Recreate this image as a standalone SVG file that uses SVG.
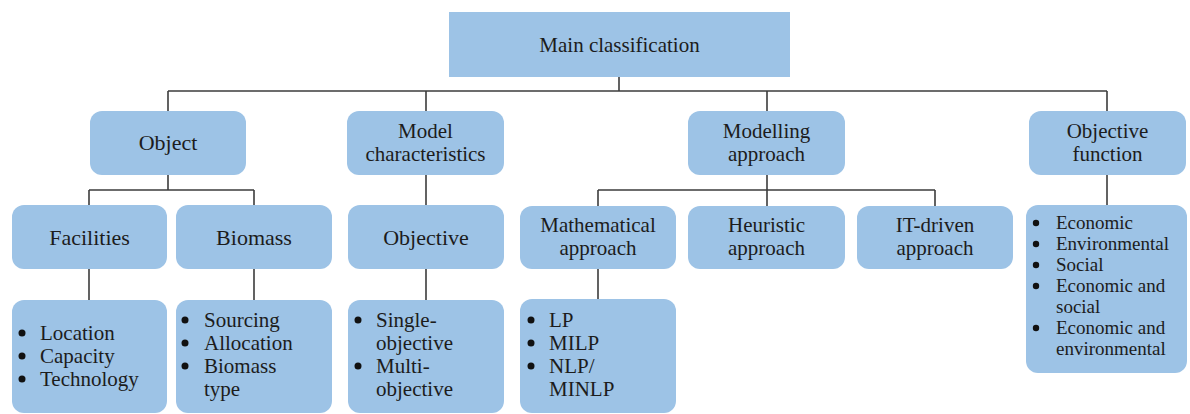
<svg xmlns="http://www.w3.org/2000/svg" width="1190" height="414" viewBox="0 0 1190 414">
  <style>
    .box { fill: #9dc3e6; }
    .lbl { font-family: "Liberation Serif", "Times New Roman", serif; font-size: 21px; fill: #1c1c1c; }
    .one { font-size: 22px; }
    .mid { text-anchor: middle; }
    .sm { font-size: 19px; }
    .wire { fill: none; stroke: #3c3c3c; stroke-width: 1.6; }
    .dot { fill: #111; }
  </style>
  <rect width="1190" height="414" fill="#ffffff"/>

  <!-- tree connectors -->
  <g id="connectors" class="wire">
    <path d="M619 77 V91 M168 91 H1107 M168 91 V111 M426 91 V111 M767 91 V111 M1107 91 V111"/>
    <path d="M168 175 V190 M89 190 H254 M89 190 V205 M254 190 V205"/>
    <path d="M426 175 V205"/>
    <path d="M767 175 V206 M598 190 H935 M598 190 V206 M935 190 V206"/>
    <path d="M1107 175 V205"/>
    <path d="M89 269 V300 M254 269 V300 M426 269 V300 M598 269 V299"/>
  </g>

  <!-- root -->
  <g id="main">
    <rect class="box" x="449" y="12" width="341" height="65"/>
    <text class="lbl mid" x="619.5" y="52" font-size="23">Main classification</text>
  </g>

  <!-- first level -->
  <g id="object">
    <rect class="box" x="90" y="111" width="156" height="64" rx="12"/>
    <text class="lbl one mid" x="168" y="150">Object</text>
  </g>
  <g id="model-characteristics">
    <rect class="box" x="347" y="111" width="157" height="64" rx="12"/>
    <text class="lbl mid" x="425.5" y="138">Model</text>
    <text class="lbl mid" x="425.5" y="161">characteristics</text>
  </g>
  <g id="modelling-approach">
    <rect class="box" x="688" y="111" width="157" height="64" rx="12"/>
    <text class="lbl mid" x="766.5" y="138">Modelling</text>
    <text class="lbl mid" x="766.5" y="161">approach</text>
  </g>
  <g id="objective-function">
    <rect class="box" x="1029" y="111" width="157" height="64" rx="12"/>
    <text class="lbl mid" x="1107.5" y="138">Objective</text>
    <text class="lbl mid" x="1107.5" y="161">function</text>
  </g>

  <!-- second level -->
  <g id="facilities">
    <rect class="box" x="12" y="205" width="155" height="64" rx="12"/>
    <text class="lbl one mid" x="89.5" y="244.5">Facilities</text>
  </g>
  <g id="biomass">
    <rect class="box" x="176" y="205" width="156" height="64" rx="12"/>
    <text class="lbl one mid" x="254" y="244.5">Biomass</text>
  </g>
  <g id="objective">
    <rect class="box" x="348" y="205" width="156" height="64" rx="12"/>
    <text class="lbl one mid" x="426" y="244.5">Objective</text>
  </g>
  <g id="mathematical-approach">
    <rect class="box" x="520" y="206" width="156" height="63" rx="12"/>
    <text class="lbl mid" x="598" y="232">Mathematical</text>
    <text class="lbl mid" x="598" y="255">approach</text>
  </g>
  <g id="heuristic-approach">
    <rect class="box" x="688" y="206" width="157" height="63" rx="12"/>
    <text class="lbl mid" x="766.5" y="232">Heuristic</text>
    <text class="lbl mid" x="766.5" y="255">approach</text>
  </g>
  <g id="it-driven-approach">
    <rect class="box" x="857" y="206" width="156" height="63" rx="12"/>
    <text class="lbl mid" x="935" y="232">IT-driven</text>
    <text class="lbl mid" x="935" y="255">approach</text>
  </g>
  <g id="objective-function-list">
    <rect class="box" x="1026" y="205" width="161" height="168" rx="12"/>
    <circle class="dot" cx="1036" cy="223" r="3.2"/>
    <circle class="dot" cx="1036" cy="244" r="3.2"/>
    <circle class="dot" cx="1036" cy="265" r="3.2"/>
    <circle class="dot" cx="1036" cy="286" r="3.2"/>
    <circle class="dot" cx="1036" cy="328" r="3.2"/>
    <text class="lbl sm" x="1056" y="229">Economic</text>
    <text class="lbl sm" x="1056" y="250">Environmental</text>
    <text class="lbl sm" x="1056" y="271">Social</text>
    <text class="lbl sm" x="1056" y="292">Economic and</text>
    <text class="lbl sm" x="1056" y="313">social</text>
    <text class="lbl sm" x="1056" y="334">Economic and</text>
    <text class="lbl sm" x="1056" y="355">environmental</text>
  </g>

  <!-- third level -->
  <g id="facility-items">
    <rect class="box" x="12" y="300" width="155" height="113" rx="12"/>
    <circle class="dot" cx="22" cy="333" r="3.5"/>
    <circle class="dot" cx="22" cy="356" r="3.5"/>
    <circle class="dot" cx="22" cy="379" r="3.5"/>
    <text class="lbl" x="40" y="340">Location</text>
    <text class="lbl" x="40" y="363">Capacity</text>
    <text class="lbl" x="40" y="386">Technology</text>
  </g>
  <g id="biomass-items">
    <rect class="box" x="176" y="300" width="156" height="113" rx="12"/>
    <circle class="dot" cx="185" cy="320" r="3.5"/>
    <circle class="dot" cx="185" cy="343" r="3.5"/>
    <circle class="dot" cx="185" cy="366" r="3.5"/>
    <text class="lbl" x="204" y="327">Sourcing</text>
    <text class="lbl" x="204" y="350">Allocation</text>
    <text class="lbl" x="204" y="373">Biomass</text>
    <text class="lbl" x="204" y="396">type</text>
  </g>
  <g id="objective-items">
    <rect class="box" x="348" y="300" width="156" height="113" rx="12"/>
    <circle class="dot" cx="358" cy="320" r="3.5"/>
    <circle class="dot" cx="358" cy="366" r="3.5"/>
    <text class="lbl" x="376" y="327">Single-</text>
    <text class="lbl" x="376" y="350">objective</text>
    <text class="lbl" x="376" y="373">Multi-</text>
    <text class="lbl" x="376" y="396">objective</text>
  </g>
  <g id="mathematical-items">
    <rect class="box" x="520" y="299" width="156" height="114" rx="12"/>
    <circle class="dot" cx="531" cy="320" r="3.5"/>
    <circle class="dot" cx="531" cy="343" r="3.5"/>
    <circle class="dot" cx="531" cy="366" r="3.5"/>
    <text class="lbl" x="549" y="327">LP</text>
    <text class="lbl" x="549" y="350">MILP</text>
    <text class="lbl" x="549" y="373">NLP/</text>
    <text class="lbl" x="549" y="396">MINLP</text>
  </g>
</svg>
